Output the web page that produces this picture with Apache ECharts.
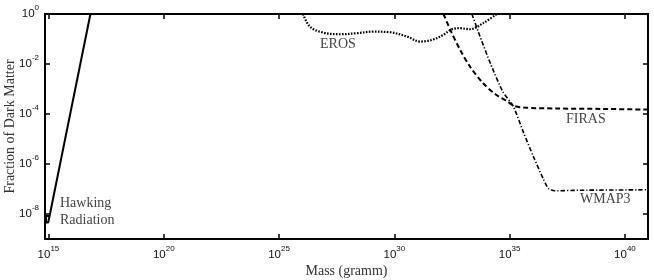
<!DOCTYPE html>
<html>
<head>
<meta charset="utf-8">
<script src="https://cdn.jsdelivr.net/npm/echarts@6/dist/echarts.min.js"></script>
<style>
html,body{margin:0;padding:0;background:#fff;}
#chart{width:654px;height:280px;}
</style>
</head>
<body>
<div id="chart"></div>
<script>
// ---- data (mass in gramm, fraction of dark matter) ----
const hawkingMass = [1.1e15, 7.9e14, 7.9e14, 9.8e14, 6.6e16];
const hawkingFrac = [8.3e-9, 8.3e-9, 4.6e-9, 4.6e-9, 1];

const erosMass = [1.1e26, 2.2e26, 8.3e26, 4.5e27, 2.3e28, 1.2e29, 6.6e29, 3.5e30, 1.3e31, 4.8e31, 1.3e32, 3.1e32, 7.1e32, 1.9e33, 7.1e33, 2.75e34];
const erosFrac = [1, 0.31, 0.18, 0.155, 0.17, 0.197, 0.186, 0.126, 0.079, 0.095, 0.145, 0.245, 0.27, 0.245, 0.43, 1];

const firasMass = [1.35e32, 2.8e32, 7.1e32, 2.0e33, 7.1e33, 2.5e34, 7.9e34, 1.6e35, 4.0e35, 1e37, 1e39, 1e41];
const firasFrac = [1, 0.21, 0.037, 7.4e-3, 1.7e-3, 6.0e-4, 3.2e-4, 2.1e-4, 1.8e-4, 1.66e-4, 1.6e-4, 1.5e-4];

const wmapMass = [2.3e33, 5.2e33, 1.5e34, 5.0e34, 1.45e35, 4.0e35, 1.07e36, 2.9e36, 4.8e36, 8.9e36, 1e38, 1e41];
const wmapFrac = [1, 0.126, 0.01, 7.9e-4, 2.0e-4, 1.8e-5, 2.0e-6, 2.5e-7, 1.05e-7, 8.5e-8, 8.9e-8, 9.3e-8];

const xTickExp = [15, 20, 25, 30, 35, 40];
const yTickExp = [-8, -6, -4, -2, 0];

// ---- build ----
const toLog = (xs, ys) => xs.map((x, i) => [Math.log10(x), Math.log10(ys[i])]);
const chart = echarts.init(document.getElementById('chart'), null, {renderer: 'canvas'});

const labelFmt = v => '{b|10}{s|' + Math.round(v) + '}';
const tickStyle = {show: true, inside: true, length: 5, lineStyle: {color: '#000', width: 1.5}};
const axisLineStyle = {show: true, onZero: false, lineStyle: {color: '#000', width: 2}};
const serif = 'Liberation Serif';
const richLabel = {
  b: {fontFamily: 'Liberation Sans', fontSize: 11.5, lineHeight: 12},
  s: {fontFamily: 'Liberation Sans', fontSize: 8, lineHeight: 8, padding: [0, 0, 13, 0]}
};

const xBase = {type: 'value', min: 14.85, max: 41, splitLine: {show: false}, axisLine: axisLineStyle};
const yBase = {type: 'value', min: -9, max: 0, splitLine: {show: false}, axisLine: axisLineStyle};

const option = {
  animation: false,
  backgroundColor: '#fff',
  grid: {left: 45, right: 6, top: 14, bottom: 41, containLabel: false, outerBoundsMode: 'none'},
  xAxis: [
    Object.assign({}, xBase, {
      position: 'bottom',
      name: 'Mass (gramm)', nameLocation: 'middle', nameGap: 25, nameMoveOverlap: false,
      nameTextStyle: {fontFamily: serif, fontSize: 14, color: '#333'},
      axisTick: Object.assign({customValues: xTickExp}, tickStyle),
      axisLabel: {customValues: xTickExp, margin: 10, formatter: labelFmt, color: '#111', rich: richLabel}
    }),
    Object.assign({}, xBase, {
      position: 'top',
      axisTick: Object.assign({customValues: xTickExp}, tickStyle),
      axisLabel: {show: false}
    })
  ],
  yAxis: [
    Object.assign({}, yBase, {
      position: 'left',
      name: 'Fraction of Dark Matter', nameLocation: 'middle', nameGap: 28, nameMoveOverlap: false,
      nameTextStyle: {fontFamily: serif, fontSize: 14, color: '#333'},
      axisTick: Object.assign({customValues: yTickExp}, tickStyle),
      axisLabel: {customValues: yTickExp, margin: 6, formatter: labelFmt, color: '#111', rich: richLabel}
    }),
    Object.assign({}, yBase, {
      position: 'right',
      axisTick: Object.assign({customValues: yTickExp}, tickStyle),
      axisLabel: {show: false}
    })
  ],
  series: [
    {name: 'Hawking', type: 'line', data: toLog(hawkingMass, hawkingFrac), showSymbol: false, symbol: 'none',
     lineStyle: {color: '#000', width: 2}},
    {name: 'EROS', type: 'line', data: toLog(erosMass, erosFrac), showSymbol: false, symbol: 'none', smooth: 0.35,
     lineStyle: {color: '#000', width: 2.2, type: [1.6, 1.4]}},
    {name: 'FIRAS', type: 'line', data: toLog(firasMass, firasFrac), showSymbol: false, symbol: 'none', smooth: 0.3,
     lineStyle: {color: '#000', width: 2, type: [5, 3]}},
    {name: 'WMAP3', type: 'line', data: toLog(wmapMass, wmapFrac), showSymbol: false, symbol: 'none', smooth: 0.2,
     lineStyle: {color: '#000', width: 1.6, type: [4.5, 2, 1.2, 2]}}
  ],
  graphic: [
    {type: 'text', left: 60, top: 196, style: {text: 'Hawking', font: '14px "Liberation Serif"', fill: '#444'}},
    {type: 'text', left: 60, top: 213, style: {text: 'Radiation', font: '14px "Liberation Serif"', fill: '#444'}},
    {type: 'text', left: 320, top: 37, style: {text: 'EROS', font: '14px "Liberation Serif"', fill: '#444'}},
    {type: 'text', left: 566, top: 112, style: {text: 'FIRAS', font: '14px "Liberation Serif"', fill: '#444'}},
    {type: 'text', left: 580, top: 192, style: {text: 'WMAP3', font: '14px "Liberation Serif"', fill: '#444'}}
  ]
};
chart.setOption(option);
</script>
</body>
</html>
